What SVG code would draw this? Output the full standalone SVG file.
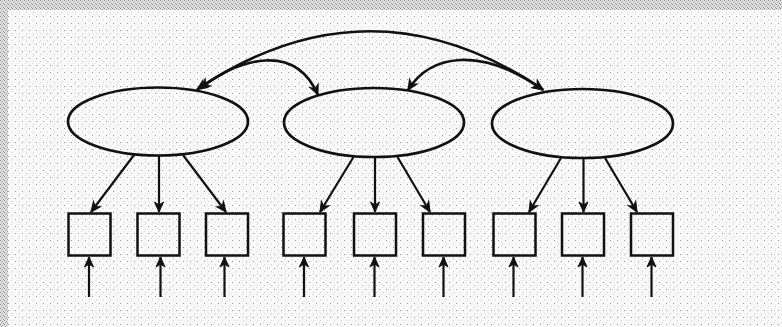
<svg xmlns="http://www.w3.org/2000/svg" width="782" height="327" viewBox="0 0 782 327">
  <style>
    .lat { fill: none; stroke: #111; stroke-width: 2.7; }
    .obs { fill: none; stroke: #111; stroke-width: 2.5; }
    .edge { fill: none; stroke: #111; stroke-width: 2.2; }
    .cov { fill: none; stroke: #111; stroke-width: 2.6; marker-start: url(#ah); marker-end: url(#ah); }
    .dir { marker-end: url(#ah); }
  </style>
  <defs>
    <marker id="ah" markerUnits="userSpaceOnUse" markerWidth="14" markerHeight="12" viewBox="-12 -6 14 12" refX="0" refY="0" orient="auto-start-reverse">
      <path d="M0,0 L-10,-4.5 L-7,0 L-10,4.5 Z" fill="#111" stroke="#111" stroke-width="1"/>
    </marker>
    <pattern id="noiseIn" width="7" height="7" patternUnits="userSpaceOnUse">
      <rect width="7" height="7" fill="#f9f9f9"/>
      <rect x="1" y="2" width="1" height="1" fill="#9a9a9a"/>
      <rect x="5" y="5" width="1" height="1" fill="#d0d0d0"/>
      <rect x="4" y="0" width="1" height="1" fill="#e2e2e2"/>
    </pattern>
    <pattern id="noiseOut" width="4" height="4" patternUnits="userSpaceOnUse">
      <rect width="4" height="4" fill="#e0e0e0"/>
      <rect x="0" y="0" width="1" height="1" fill="#888888"/>
      <rect x="2" y="1" width="1" height="1" fill="#a0a0a0"/>
      <rect x="1" y="2" width="1" height="1" fill="#b4b4b4"/>
      <rect x="3" y="3" width="1" height="1" fill="#949494"/>
    </pattern>
  </defs>

  <rect x="0" y="0" width="782" height="327" fill="url(#noiseOut)"/>
  <rect x="8" y="10" width="774" height="317" fill="url(#noiseIn)"/>

  <g id="connectors">
    <!-- covariances -->
    <path class="cov" d="M197,89.5 Q370,-27 543,89.5"/>
    <path class="cov" d="M200,88.5 C240,58 295,42 318,95"/>
    <path class="cov" d="M408,90 C430,55 480,45 543,90"/>
    <!-- loadings F1 -->
    <path class="edge dir" d="M134,155 L91,212"/>
    <path class="edge dir" d="M159,156 L159,212"/>
    <path class="edge dir" d="M183,155 L226,212"/>
    <!-- loadings F2 -->
    <path class="edge dir" d="M353.5,157 L320,212"/>
    <path class="edge dir" d="M375,157.5 L375,212"/>
    <path class="edge dir" d="M397.5,157 L430,212"/>
    <!-- loadings F3 -->
    <path class="edge dir" d="M561,158 L529,212"/>
    <path class="edge dir" d="M583.5,158.5 L583.5,212"/>
    <path class="edge dir" d="M605,158 L637,212"/>
    <!-- error terms -->
    <path class="edge dir" d="M89,297 L89,257"/>
    <path class="edge dir" d="M160.5,297 L160.5,257"/>
    <path class="edge dir" d="M224.5,297 L224.5,257"/>
    <path class="edge dir" d="M304,297 L304,257"/>
    <path class="edge dir" d="M374.5,297 L374.5,257"/>
    <path class="edge dir" d="M443.5,297 L443.5,257"/>
    <path class="edge dir" d="M513.5,297 L513.5,257"/>
    <path class="edge dir" d="M582.5,297 L582.5,257"/>
    <path class="edge dir" d="M651.5,297 L651.5,257"/>
  </g>

  <g id="F1"><ellipse class="lat" cx="158" cy="121.5" rx="90" ry="34"/></g>
  <g id="F2"><ellipse class="lat" cx="374" cy="122.5" rx="90" ry="34.5"/></g>
  <g id="F3"><ellipse class="lat" cx="582.5" cy="123.5" rx="90.5" ry="34.5"/></g>

  <g id="x1"><rect class="obs" x="68.5" y="213.5" width="42" height="42"/></g>
  <g id="x2"><rect class="obs" x="137.5" y="213.5" width="42" height="42"/></g>
  <g id="x3"><rect class="obs" x="206" y="213.5" width="42" height="42"/></g>
  <g id="x4"><rect class="obs" x="283.5" y="213.5" width="42" height="42"/></g>
  <g id="x5"><rect class="obs" x="354" y="213.5" width="42" height="42"/></g>
  <g id="x6"><rect class="obs" x="423" y="213.5" width="42" height="42"/></g>
  <g id="x7"><rect class="obs" x="493.5" y="213.5" width="42" height="42"/></g>
  <g id="x8"><rect class="obs" x="562" y="213.5" width="42" height="42"/></g>
  <g id="x9"><rect class="obs" x="631" y="213.5" width="42" height="42"/></g>
</svg>
